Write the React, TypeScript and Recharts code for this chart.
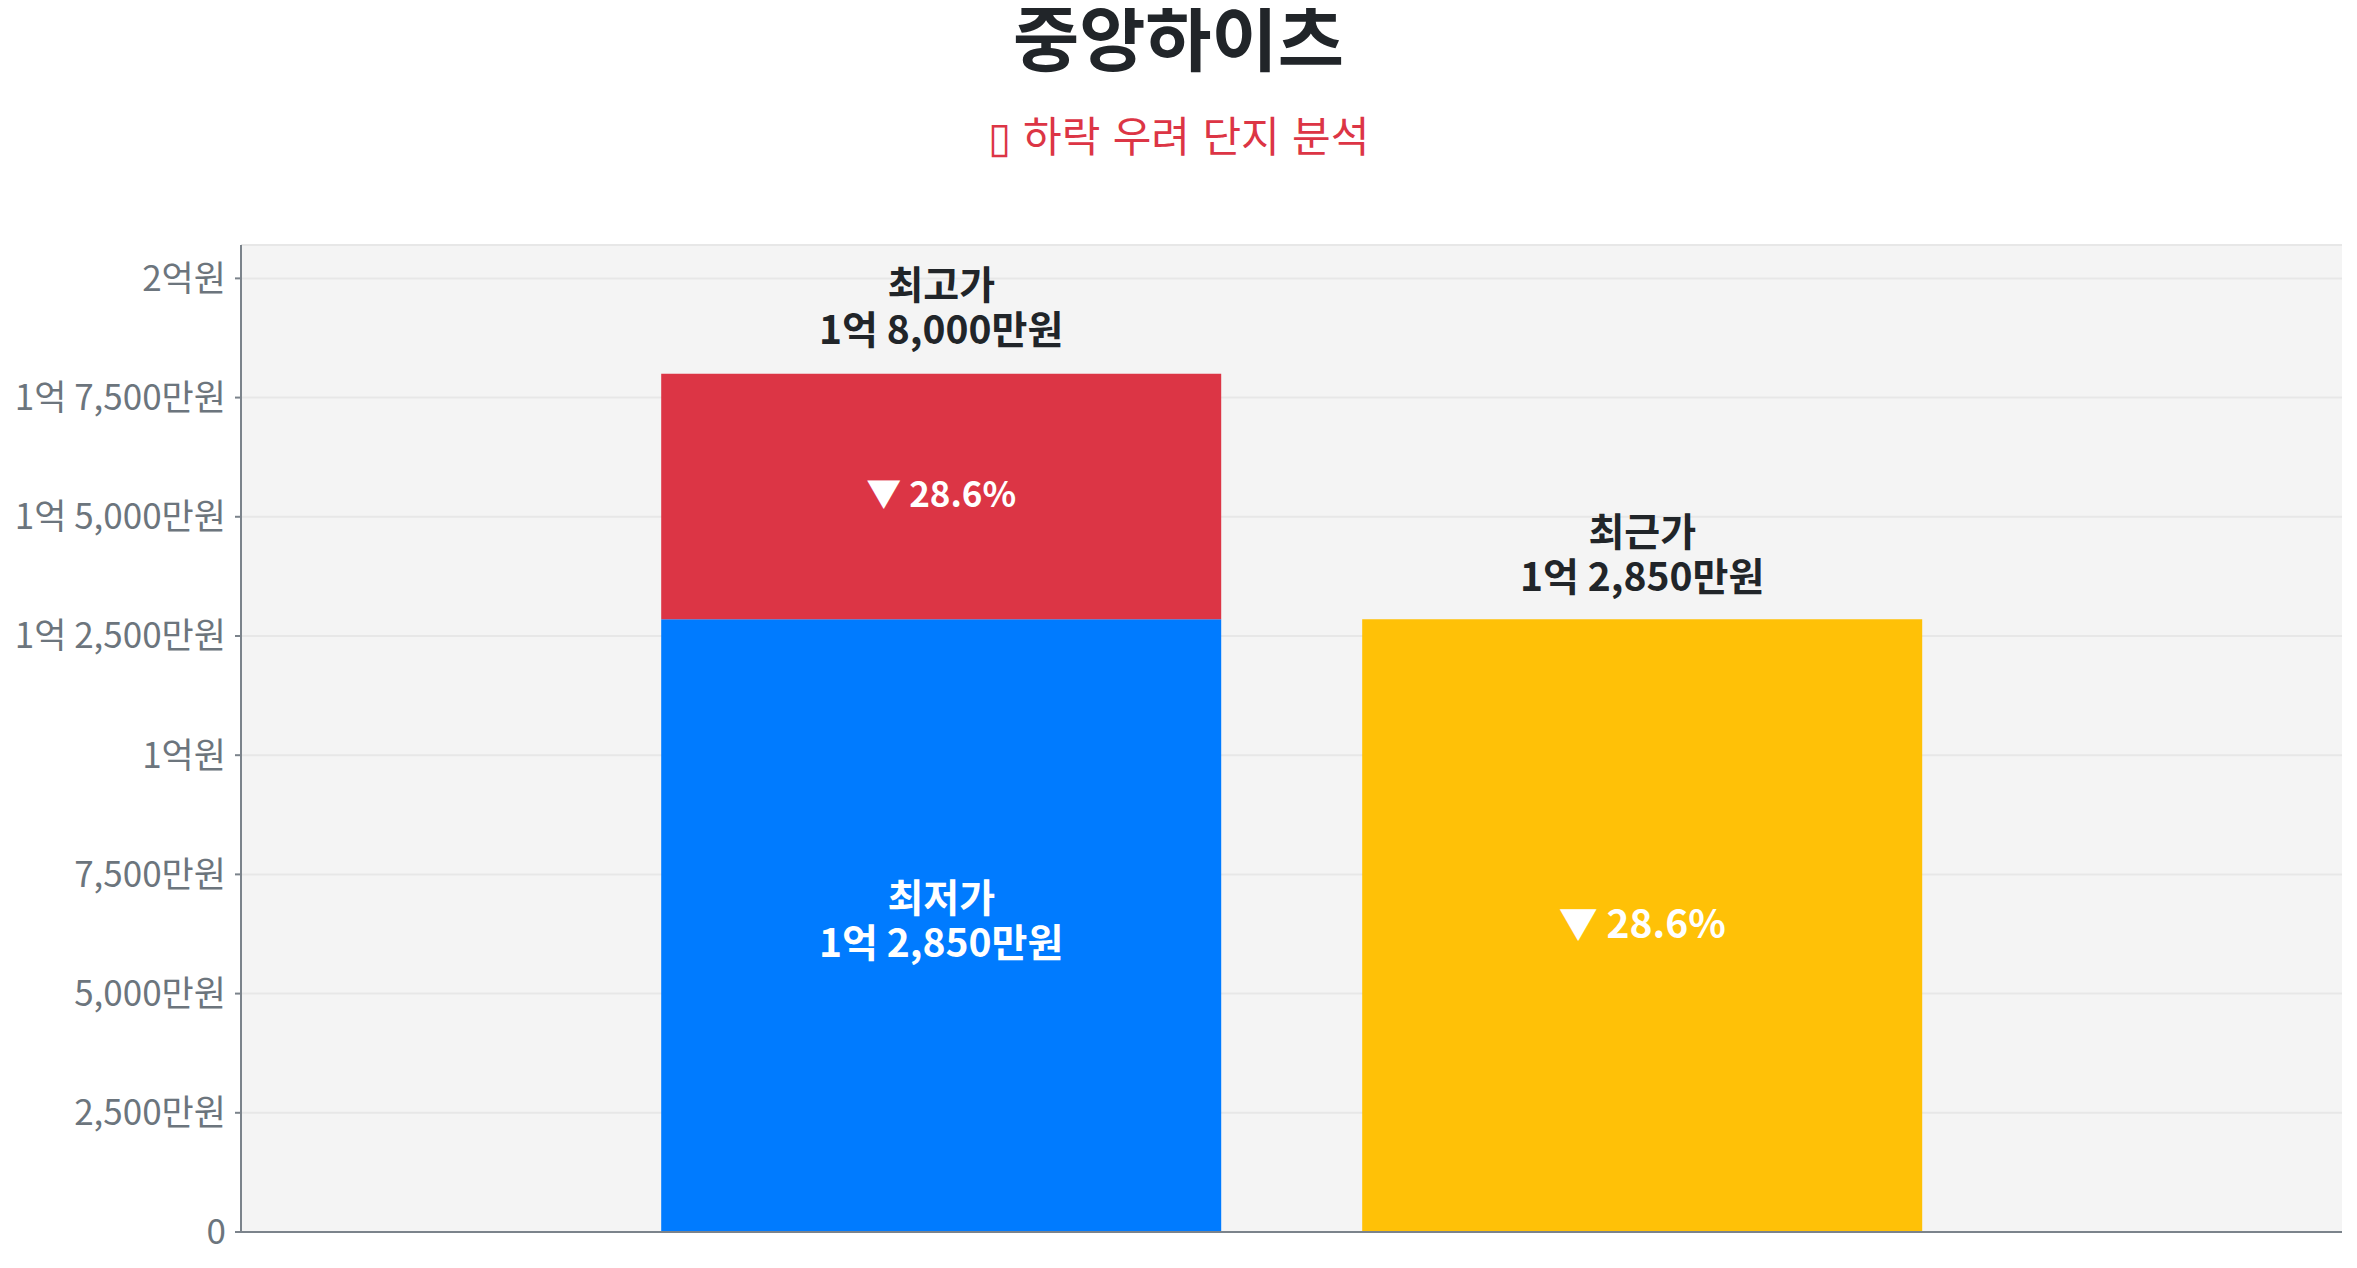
import React from "react";
import { Bar, BarChart, CartesianGrid, LabelList, XAxis, YAxis } from "recharts";

// prices in 만원
const categories = ["중앙하이츠"];
const lowestPrices = [12850];
const highestPrices = [18000];
const recentPrices = [12850];
const yTicks = [0, 2500, 5000, 7500, 10000, 12500, 15000, 17500, 20000];

const data = categories.map((name, i) => ({
  name,
  low: lowestPrices[i],
  drop: highestPrices[i] - lowestPrices[i],
  recent: recentPrices[i],
}));

const FONT = '"Noto Sans CJK KR", "Noto Sans", sans-serif';
const DARK = "#212529";

function formatPrice(v: number) {
  if (v === 0) return "0";
  const eok = Math.floor(v / 10000);
  const man = v % 10000;
  if (eok && man) return `${eok}억 ${man.toLocaleString("en-US")}만원`;
  if (eok) return `${eok}억원`;
  return `${man.toLocaleString("en-US")}만원`;
}

function dropPct(from: number, to: number) {
  return `▼ ${(((from - to) / from) * 100).toFixed(1)}%`;
}

// baseline offset so the ink sits centred on cy
const bl = (cy: number, size: number) => cy + size * 0.37;

function TwoLines({ cx, cy1, cy2, l1, l2, fill, size }: any) {
  return (
    <text x={cx} y={bl(cy1, size)} textAnchor="middle" fill={fill} fontSize={size} fontWeight={700} fontFamily={FONT}>
      <tspan x={cx}>{l1}</tspan>
      <tspan x={cx} dy={cy2 - cy1}>
        {l2}
      </tspan>
    </text>
  );
}

function lowLabel(props: any) {
  const { x, y, width, height, index } = props;
  const cx = x + width / 2;
  const cy = y + height / 2;
  return (
    <TwoLines cx={cx} cy1={cy - 28} cy2={cy + 17} l1="최저가" l2={formatPrice(lowestPrices[index])} fill="#fff" size={39} />
  );
}

function highLabel(props: any) {
  const { x, y, width, height, index } = props;
  const cx = x + width / 2;
  const cy = y + height / 2;
  return (
    <g>
      <TwoLines cx={cx} cy1={y - 89} cy2={y - 44} l1="최고가" l2={formatPrice(highestPrices[index])} fill={DARK} size={39} />
      <text x={cx} y={bl(cy - 2, 35)} textAnchor="middle" fill="#fff" fontSize={35} fontWeight={700} fontFamily={FONT}>
        {dropPct(highestPrices[index], lowestPrices[index])}
      </text>
    </g>
  );
}

function recentLabel(props: any) {
  const { x, y, width, height, index } = props;
  const cx = x + width / 2;
  const cy = y + height / 2;
  return (
    <g>
      <TwoLines cx={cx} cy1={y - 88} cy2={y - 43} l1="최근가" l2={formatPrice(recentPrices[index])} fill={DARK} size={39} />
      <text x={cx} y={bl(cy - 2, 39)} textAnchor="middle" fill="#fff" fontSize={39} fontWeight={700} fontFamily={FONT}>
        {dropPct(highestPrices[index], recentPrices[index])}
      </text>
    </g>
  );
}

export default function App() {
  return (
    <div style={{ position: "relative", width: 2341, height: 1250, fontFamily: FONT, background: "#fff" }}>
      <div
        style={{
          position: "absolute",
          top: 4,
          left: 0,
          width: "100%",
          textAlign: "center",
          fontSize: 72,
          lineHeight: 0.6,
          fontWeight: 700,
          color: DARK,
        }}
      >
        중앙하이츠
      </div>
      <div
        style={{
          position: "absolute",
          top: 105,
          left: 0,
          width: "100%",
          textAlign: "center",
          fontSize: 42,
          lineHeight: 1,
          color: "#dc3545",
          wordSpacing: 3,
        }}
      >
        ▯ 하락 우려 단지 분석
      </div>
      <div style={{ position: "absolute", top: 0, left: 0 }}>
        <BarChart
          width={2341}
          height={1250}
          data={data}
          margin={{ top: 237, right: 7, bottom: 25, left: 0 }}
          barCategoryGap="20%"
          barGap={141}
        >
          <CartesianGrid vertical={false} fill="#f4f4f4" fillOpacity={1} stroke="#e7e7e7" strokeWidth={2} />
          <XAxis
            dataKey="name"
            tick={false}
            tickLine={false}
            height={1}
            axisLine={{ stroke: "#7b838b", strokeWidth: 2 }}
          />
          <YAxis
            domain={[0, 20700]}
            ticks={yTicks}
            tickFormatter={formatPrice}
            width={233}
            tickSize={6}
            tickMargin={9}
            tick={{ fill: "#6c757d", fontSize: 35, fontFamily: FONT }}
            tickLine={{ stroke: "#7b838b", strokeWidth: 2 }}
            axisLine={{ stroke: "#7b838b", strokeWidth: 2 }}
          />
          <Bar dataKey="low" stackId="a" fill="#007bff" isAnimationActive={false}>
            <LabelList dataKey="low" content={lowLabel} />
          </Bar>
          <Bar dataKey="drop" stackId="a" fill="#dc3545" isAnimationActive={false}>
            <LabelList dataKey="drop" content={highLabel} />
          </Bar>
          <Bar dataKey="recent" stackId="b" fill="#ffc107" isAnimationActive={false}>
            <LabelList dataKey="recent" content={recentLabel} />
          </Bar>
        </BarChart>
      </div>
    </div>
  );
}
